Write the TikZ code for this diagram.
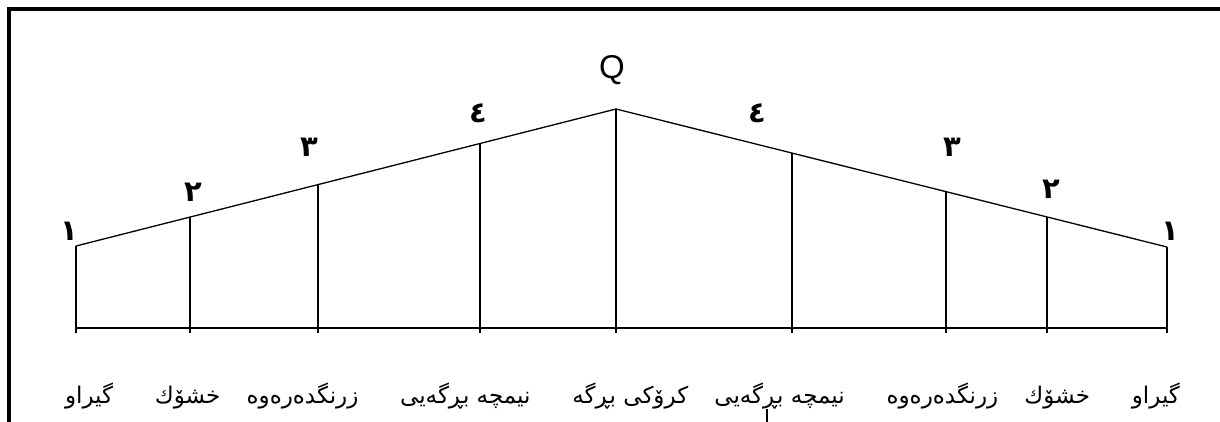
\documentclass[tikz,border=0pt]{standalone}
\usepackage{fontspec}
\setmainfont{Liberation Sans}
\newfontfamily\kurdfont[Script=Arabic]{DejaVu Sans}
\TeXXeTstate=1
\usetikzlibrary{calc}

\newcommand\bigsep{\hskip 0pt plus 40fil\relax}
\newcommand\smallsep{\hskip 0pt plus 25fil\relax}

\tikzset{
  wall/.style={line width=1.3pt},
  frameline/.style={line width=3.5pt},
  numlabel/.style={font=\kurdfont\bfseries\fontsize{29}{31}\selectfont,inner sep=0pt},
  peaklabel/.style={font=\fontsize{33}{35}\selectfont,inner sep=0pt},
  termlabel/.style={font=\kurdfont\fontsize{23}{26}\selectfont,inner sep=0pt}
}

\begin{document}
\begin{tikzpicture}[x=1pt,y=-1pt]
  \useasboundingbox (0,0) rectangle (1220,422);
  % frame
  \draw[frameline] (9,422) -- (9,9) -- (1220,9);

  % tops of the bars
  \coordinate (t1) at (76,246);
  \coordinate (t2) at (190,217);
  \coordinate (t3) at (318,185);
  \coordinate (t4) at (480,144);
  \coordinate (t5) at (616,109);
  \coordinate (t6) at (792,153);
  \coordinate (t7) at (946,191);
  \coordinate (t8) at (1047,217);
  \coordinate (t9) at (1167,247);
  \foreach \i in {1,...,9}
    \coordinate (b\i) at ($(t\i |- 0,333)$);
  \coordinate (baseL) at (76,328);
  \coordinate (baseR) at (1167,328);

  \draw[wall] (t1) -- (t5) -- (t9);
  \draw[wall] (baseL) -- (baseR);
  \foreach \i in {1,...,9}
    \draw[wall] (t\i) -- (b\i);

  % sonority numbers
  \node[numlabel] (n1) at (69,231) {١};
  \node[numlabel] (n2) at (193,192) {٢};
  \node[numlabel] (n3) at (309,147) {٣};
  \node[numlabel] (n4) at (478,113) {٤};
  \node[peaklabel] (q) at (612,70) {Q};
  \node[numlabel] (n6) at (757,113) {٤};
  \node[numlabel] (n7) at (952,147) {٣};
  \node[numlabel] (n8) at (1051,189) {٢};
  \node[numlabel] (n9) at (1170,231) {١};

  % names of the classes
  \node[termlabel] (terms) at (622.5,396)
    {\hbox to 1115pt{\beginR گیراو\bigsep خشۆك\smallsep زرنگدەرەوە\bigsep نیمچە بڕگەیی\smallsep کرۆکی بڕگە\bigsep نیمچە بڕگەیی\bigsep زرنگدەرەوە\smallsep خشۆك\bigsep گیراو\endR}};

  \coordinate (mark) at (767,409);
  \draw[wall] (mark) -- ++(0,13);
\end{tikzpicture}
\end{document}
